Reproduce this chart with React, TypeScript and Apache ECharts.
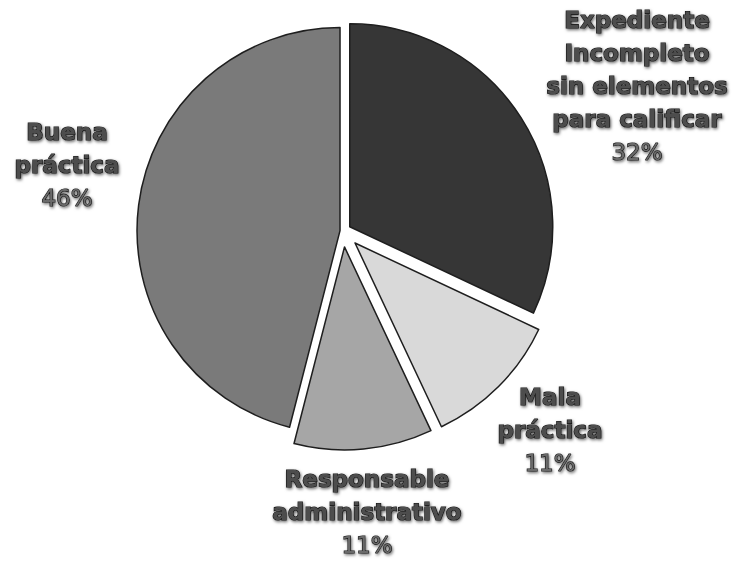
import React, { useEffect, useRef } from "react";
import * as echarts from "echarts";

// Slice names (label lines), shares in percent, fills
const categories = [
  "Expediente\nIncompleto\nsin elementos\npara calificar",
  "Mala\npráctica",
  "Responsable\nadministrativo",
  "Buena\npráctica",
];
const values = [32, 11, 11, 46];
const sliceColors = ["#363636", "#d9d9d9", "#a6a6a6", "#7a7a7a"];

// How far each slice is pulled out of the pie (px)
const explodeOffsets = [8, 17, 16, 3];
// Where each slice's label block is centred (px)
const labelCenters: [number, number][] = [
  [637, 86],
  [550, 430],
  [367, 512],
  [67, 165],
];

const PIE_CENTER: [number, number] = [343, 231];
const PIE_RADIUS = 203;

const textBase = {
  fontFamily: "DejaVu Sans",
  fontSize: 23,
  lineHeight: 33,
  color: "#4e4e4e",
  textBorderColor: "#121212",
  textBorderWidth: 1.2,
  textShadowColor: "rgba(0,0,0,0.6)",
  textShadowBlur: 3,
  textShadowOffsetX: 1,
  textShadowOffsetY: 1.5,
};

function buildSeries() {
  const total = values.reduce((a, b) => a + b, 0);
  let acc = 0;
  return values.map((v, i) => {
    const mid = ((acc + v / 2) / total) * Math.PI * 2;
    acc += v;
    const off = explodeOffsets[i];
    const center = [
      PIE_CENTER[0] + off * Math.sin(mid),
      PIE_CENTER[1] - off * Math.cos(mid),
    ];
    return {
      type: "pie",
      silent: true,
      center,
      radius: [0, PIE_RADIUS],
      startAngle: 90,
      clockwise: true,
      avoidLabelOverlap: false,
      emphasis: { disabled: true },
      labelLine: { show: false },
      labelLayout: () => ({
        x: labelCenters[i][0],
        y: labelCenters[i][1],
        align: "center",
        verticalAlign: "middle",
      }),
      data: values.map((val, j) => {
        if (j !== i) {
          return {
            name: categories[j],
            value: val,
            itemStyle: { color: "rgba(0,0,0,0)", borderWidth: 0 },
            label: { show: false },
          };
        }
        return {
          name: categories[j],
          value: val,
          itemStyle: {
            color: sliceColors[j],
            borderColor: "#1e1e1e",
            borderWidth: 1.5,
          },
          label: {
            show: true,
            position: "outside",
            formatter: (p: any) => `{b|${p.name}}\n{p|${p.value}%}`,
            rich: {
              b: { ...textBase, fontWeight: "bold" },
              p: { ...textBase, fontWeight: "normal", color: "#6a6a6a" },
            },
          },
        };
      }),
    };
  });
}

export default function App() {
  const ref = useRef<HTMLDivElement>(null);
  useEffect(() => {
    if (!ref.current) return;
    const chart = echarts.init(ref.current, undefined, { renderer: "svg" });
    chart.setOption({
      animation: false,
      backgroundColor: "#ffffff",
      series: buildSeries(),
    });
    return () => chart.dispose();
  }, []);
  return (
    <div
      ref={ref}
      style={{ position: "fixed", left: 0, top: 0, width: 733, height: 567 }}
    />
  );
}
